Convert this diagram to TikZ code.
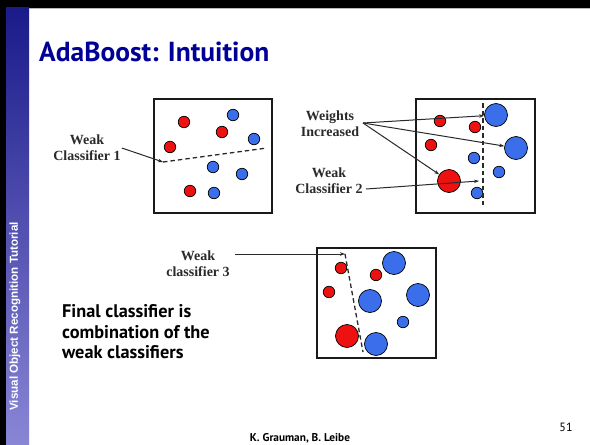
\documentclass[tikz,border=0pt]{standalone}
\usepackage{fontspec}
\setmainfont{Liberation Serif}
\newfontfamily\slidefont{PT Sans}
\newfontfamily\sidefont{Liberation Sans}
\usetikzlibrary{arrows.meta}

\definecolor{ptred}{HTML}{EE1111}
\definecolor{ptblue}{HTML}{3A6EEA}
\definecolor{framegray}{HTML}{1A1A1A}
\definecolor{labelgray}{HTML}{2A2A2A}
\definecolor{titleblue}{HTML}{000096}
\definecolor{bartop}{HTML}{1A1A8A}
\definecolor{barbottom}{HTML}{8A86D6}

\begin{document}
\begin{tikzpicture}[x=1pt,y=-1pt,
  pt/.style={circle,draw=black,line width=0.7pt,inner sep=0pt},
  small/.style={pt,minimum size=11.5pt},
  big/.style={pt,minimum size=23pt},
  redpt/.style={fill=ptred},
  bluept/.style={fill=ptblue},
  frame/.style={draw=framegray,line width=1.8pt},
  lbl/.style={font=\bfseries\fontsize{14}{16}\selectfont,text=labelgray,align=center,inner sep=1pt},
  ptr/.style={-{Stealth[length=5pt,width=3.5pt]},line width=1pt,draw=labelgray},
  split/.style={dash pattern=on 4.5pt off 3pt,line width=1.3pt,draw=labelgray}
]
\useasboundingbox (0,0) rectangle (590,445);
\fill[white] (0,0) rectangle (590,445);

% slide frame: black edges and the gradient side bar
\fill[black] (0,0) rectangle (590,7.5);
\fill[gray!55] (0,7.5) rectangle (590,9.3);
\fill[black] (0,0) rectangle (6,445);
\shade[top color=bartop,bottom color=barbottom] (6,7.5) rectangle (29,445);
\node[rotate=90,text=white,font=\sidefont\bfseries\fontsize{11.6}{13}\selectfont] (sidebar) at (15,316.5) {Visual Object Recognition Tutorial};

% title
\node[anchor=base west,inner sep=0pt,text=titleblue,font=\slidefont\bfseries\fontsize{27.5}{30}\selectfont] (title) at (39,61.5) {AdaBoost: Intuition};

% ---- round 1 ----
\draw[frame] (154,99) rectangle (272,213);
\node[small,redpt]  (r1a) at (184,122) {};
\node[small,bluept] (b1a) at (233,115) {};
\node[small,redpt]  (r1b) at (222,132) {};
\node[small,bluept] (b1b) at (254,139) {};
\node[small,redpt]  (r1c) at (170,147) {};
\node[small,bluept] (b1c) at (213,167) {};
\node[small,bluept] (b1d) at (242,174) {};
\node[small,redpt]  (r1d) at (190,191) {};
\node[small,bluept] (b1e) at (214,193) {};
\coordinate (c1s) at (163,162);
\coordinate (c1e) at (267,148);
\draw[split] (c1s) -- (c1e);
\node[lbl] (lbl1) at (87,148) {Weak\\Classifier 1};
\draw[ptr] (lbl1.east) -- (c1s);

% ---- round 2 ----
\draw[frame] (416,99) rectangle (535,213);
\node[small,redpt]  (r2a) at (440,121) {};
\node[big,bluept]   (B2a) at (496,115) {};
\node[small,redpt]  (r2b) at (475,127) {};
\node[small,redpt]  (r2c) at (431,145) {};
\node[big,bluept]   (B2b) at (516,148) {};
\node[small,bluept] (b2c) at (474,158) {};
\node[small,bluept] (b2d) at (499,172) {};
\node[big,redpt]    (R2d) at (449,181) {};
\node[small,bluept] (b2e) at (477,193) {};
\coordinate (c2s) at (483,103);
\coordinate (c2e) at (483,205);
\draw[split] (c2s) -- (c2e);
\node[lbl] (lblw) at (330,124) {Weights\\Increased};
\coordinate (w0) at (363,123);
\draw[ptr] (w0) -- (B2a);
\draw[ptr] (w0) -- (B2b);
\draw[ptr] (w0) -- (R2d);
\node[lbl] (lbl2) at (329,181) {Weak\\Classifier 2};
\coordinate (a2s) at (366,189);
\coordinate (c2t) at (479,181);
\draw[ptr] (a2s) -- (c2t);

% ---- round 3 ----
\draw[frame] (317,248) rectangle (436,358);
\node[small,redpt]  (r3a) at (341,268) {};
\node[big,bluept]   (B3a) at (394,263) {};
\node[small,redpt]  (r3b) at (376,275) {};
\node[small,redpt]  (r3c) at (329,292) {};
\node[big,bluept]   (B3b) at (370,301) {};
\node[big,bluept]   (B3c) at (418,295) {};
\node[small,bluept] (b3d) at (403,322) {};
\node[big,redpt]    (R3d) at (347,336) {};
\node[big,bluept]   (B3e) at (376,344) {};
\coordinate (c3s) at (345,254);
\coordinate (c3e) at (363,352);
\draw[split] (c3s) -- (c3e);
\node[lbl] (lbl3) at (198,264) {Weak\\classifier 3};
\coordinate (a3s) at (235,254);
\draw[ptr] (a3s) -- (c3s);

% summary text
\node[anchor=north west,inner sep=0pt,align=left,font=\slidefont\bfseries\fontsize{18.3}{20.8}\selectfont] (final) at (62,304) {Final classifier is\\combination of the\\weak classifiers};

% footer
\node[font=\slidefont\bfseries\fontsize{11.3}{12}\selectfont,inner sep=0pt] (authors) at (300,438) {K. Grauman, B. Leibe};
\node[font=\slidefont\fontsize{12}{13}\selectfont,inner sep=0pt] (page) at (566,427) {51};
\end{tikzpicture}
\end{document}
